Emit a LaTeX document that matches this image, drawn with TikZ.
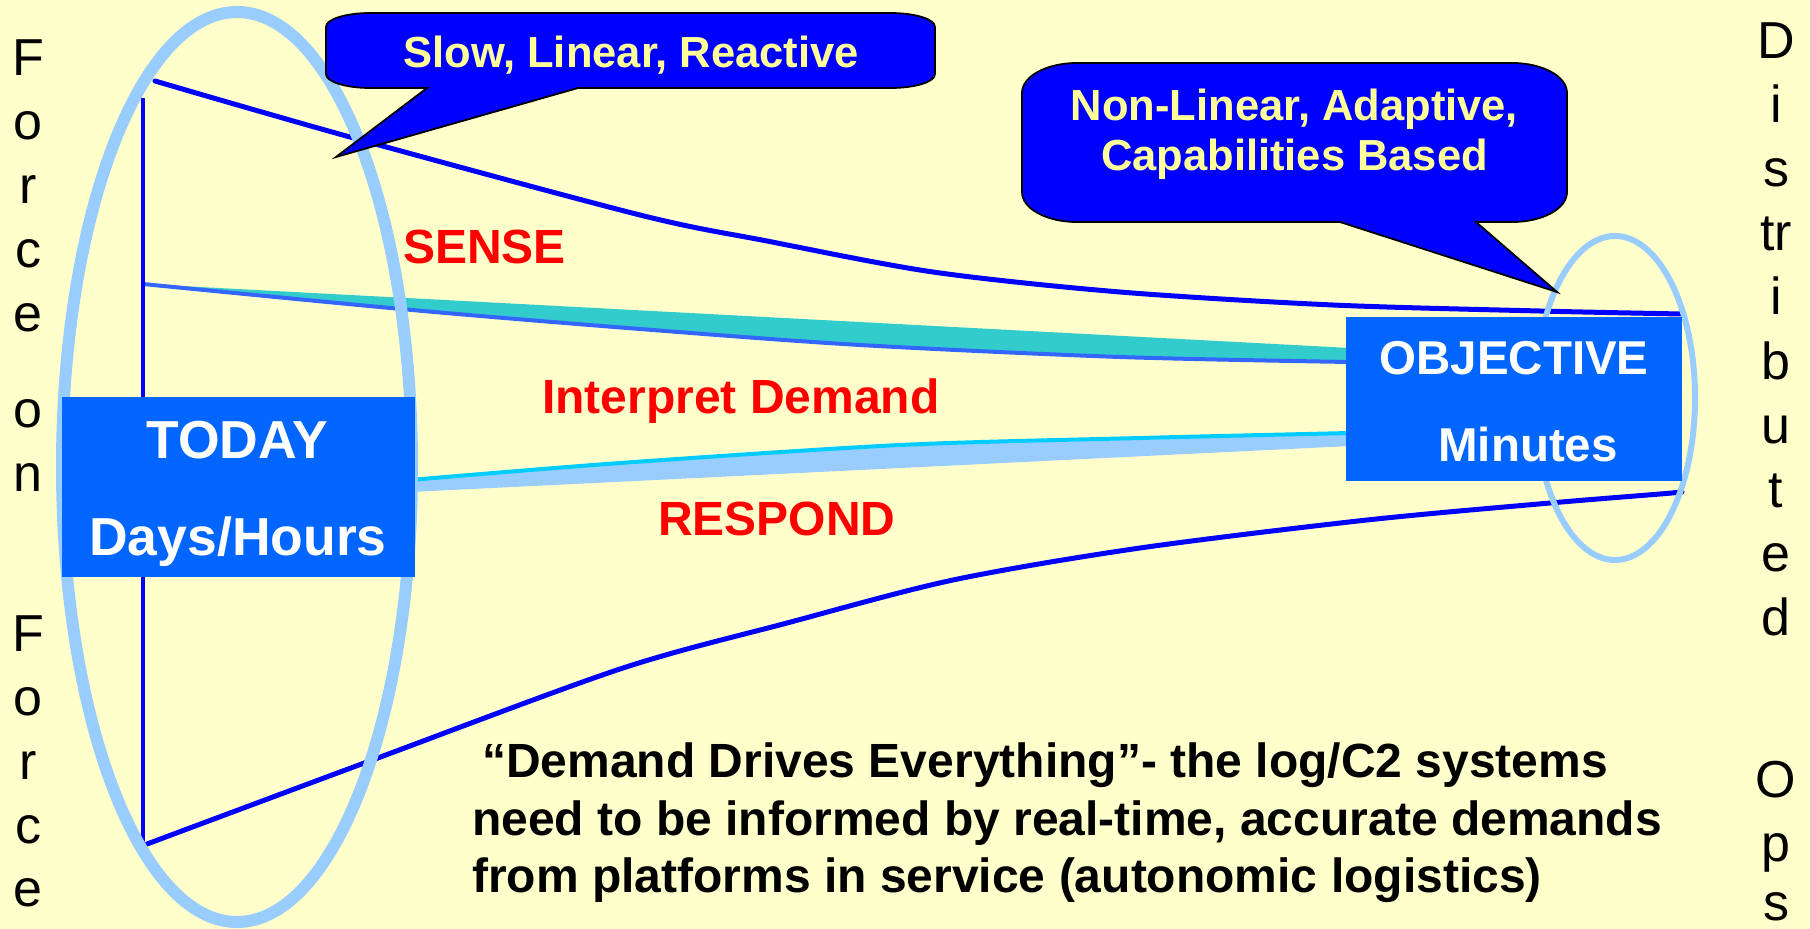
\documentclass[tikz,border=0pt]{standalone}
\usepackage{fontspec}
\setmainfont{Liberation Sans}
\definecolor{paper}{HTML}{FFFFCC}
\definecolor{ringblue}{HTML}{99CCFF}
\definecolor{deepblue}{HTML}{0000FF}
\definecolor{sensefill}{HTML}{33CCCC}
\definecolor{senseedge}{HTML}{3366FF}
\definecolor{respondedge}{HTML}{00CCFF}
\definecolor{boxblue}{HTML}{0066FF}
\definecolor{calloutyellow}{HTML}{FFFF99}
\definecolor{alertred}{HTML}{FF0000}
\tikzset{
  funnel/.style={draw=deepblue, line width=5pt, line cap=round},
  ring/.style={draw=ringblue},
  stagebox/.style={fill=boxblue, draw=none, inner sep=0pt},
  stagetext/.style={text=white, inner sep=0pt, anchor=base,
    font=\bfseries\fontsize{53.5}{64}\selectfont},
  phasetag/.style={text=alertred, inner sep=0pt, anchor=base west,
    font=\bfseries\fontsize{48}{57}\selectfont},
  bubble/.style={fill=deepblue, draw=black, line width=1.8pt, line join=miter},
  bubbletext/.style={text=calloutyellow, inner sep=0pt, anchor=base,
    font=\bfseries\fontsize{43.5}{52}\selectfont},
  quoteline/.style={text=black, inner sep=0pt, anchor=base west,
    font=\bfseries\fontsize{48}{57}\selectfont},
  sideletter/.style={text=black, inner sep=0pt, anchor=base,
    font=\fontsize{52}{60}\selectfont}
}
\begin{document}
\begin{tikzpicture}[x=1pt, y=-1pt]
\useasboundingbox (0,0) rectangle (1810,929);
\fill[paper] (0,0) rectangle (1810,929);

% SENSE band: teal wedge with its blue lower edge
\fill[sensefill] (143,284) -- (1350,348) -- (1350,362)
  -- plot[smooth, tension=0.5] coordinates {(1120,357) (860,345) (640,329) (412,310) (143,284)} -- cycle;
\draw[senseedge, line width=4pt]
  plot[smooth, tension=0.5] coordinates {(143,284) (412,310) (640,329) (860,345) (1120,357) (1350,362)};

% RESPOND band: light blue wedge with its cyan upper edge
\fill[ringblue] (410,492) -- (1350,446) -- (1350,433)
  -- plot[smooth, tension=0.5] coordinates {(1140,438) (900,445) (620,463) (410,480)} -- cycle;
\draw[respondedge, line width=4pt]
  plot[smooth, tension=0.5] coordinates {(410,480) (620,463) (900,445) (1140,438) (1350,433)};

% funnel outline
\draw[funnel, line width=4pt, line cap=butt] (143,98) -- (143,842);
\draw[funnel]
  plot[smooth, tension=0.5] coordinates {(155,81) (350,137) (640,215) (767,241) (933,272) (1120,292) (1333,305) (1540,311) (1682,314)};
\draw[funnel]
  plot[smooth, tension=0.5] coordinates {(147,844) (367,762) (620,669) (787,623) (953,580) (1140,548) (1367,520) (1550,503) (1660,494) (1682,492)};

% rings around both ends
\draw[ring, line width=12pt] (237,467) ellipse [x radius=175pt, y radius=455pt];
\draw[ring, line width=6pt] (1615,398) ellipse [x radius=80pt, y radius=162pt];

% stage boxes
\node[stagebox, minimum width=353pt, minimum height=180pt] (today) at (238.5,487) {};
\node[stagebox, minimum width=336pt, minimum height=164pt] (objective) at (1514,399) {};

\node[stagetext] (todayA) at (237,458) {TODAY};
\node[stagetext] (todayB) at (238,555) {Days/Hours};
\node[stagetext, font=\bfseries\fontsize{47.5}{57}\selectfont] (objA) at (1514,374) {OBJECTIVE};
\node[stagetext, font=\bfseries\fontsize{47.5}{57}\selectfont] (objB) at (1528,461) {Minutes};

% callouts
\draw[bubble] (371,13) -- (890,13) .. controls (915,13) and (935,19) .. (935,27)
  -- (935,74) .. controls (935,82) and (915,88) .. (890,88)
  -- (578,88) -- (336,157) -- (427,88)
  -- (371,88) .. controls (346,88) and (326,82) .. (326,74)
  -- (326,27) .. controls (326,19) and (346,13) .. (371,13) -- cycle;
\node[bubbletext] (slow) at (631,67) {Slow, Linear, Reactive};

\draw[bubble] (1077,63) -- (1512,63) .. controls (1542,63) and (1567,76) .. (1567,93)
  -- (1567,192) .. controls (1567,209) and (1542,222) .. (1512,222)
  -- (1476,222) -- (1557,292) -- (1340,222)
  -- (1077,222) .. controls (1047,222) and (1022,209) .. (1022,192)
  -- (1022,93) .. controls (1022,76) and (1047,63) .. (1077,63) -- cycle;
\node[bubbletext] (fastA) at (1294.5,120) {Non-Linear, Adaptive,};
\node[bubbletext] (fastB) at (1294.5,170) {Capabilities Based};

% phase labels
\node[phasetag] (sense) at (403,263) {SENSE};
\node[phasetag] (interpret) at (542,413) {Interpret Demand};
\node[phasetag] (respond) at (658,535) {RESPOND};

% statement
\node[quoteline] (q1) at (482,777) {“Demand Drives Everything”- the log/C2 systems};
\node[quoteline] (q2) at (472,835) {need to be informed by real-time, accurate demands};
\node[quoteline] (q3) at (472,892) {from platforms in service (autonomic logistics)};

% vertical side captions
\foreach \ch/\yy [count=\k] in {F/75, o/139, r/203, c/267, e/331, o/427, n/491, F/651, o/715, r/779, c/843, e/906}
  \node[sideletter] (left\k) at (28,\yy) {\ch};
\foreach \ch/\yy [count=\k] in {D/58, i/122, s/186, tr/250, i/314, b/379, u/443, t/507, e/571, d/635, O/797, p/861, s/920}
  \node[sideletter] (right\k) at (1776,\yy) {\ch};
\end{tikzpicture}
\end{document}
